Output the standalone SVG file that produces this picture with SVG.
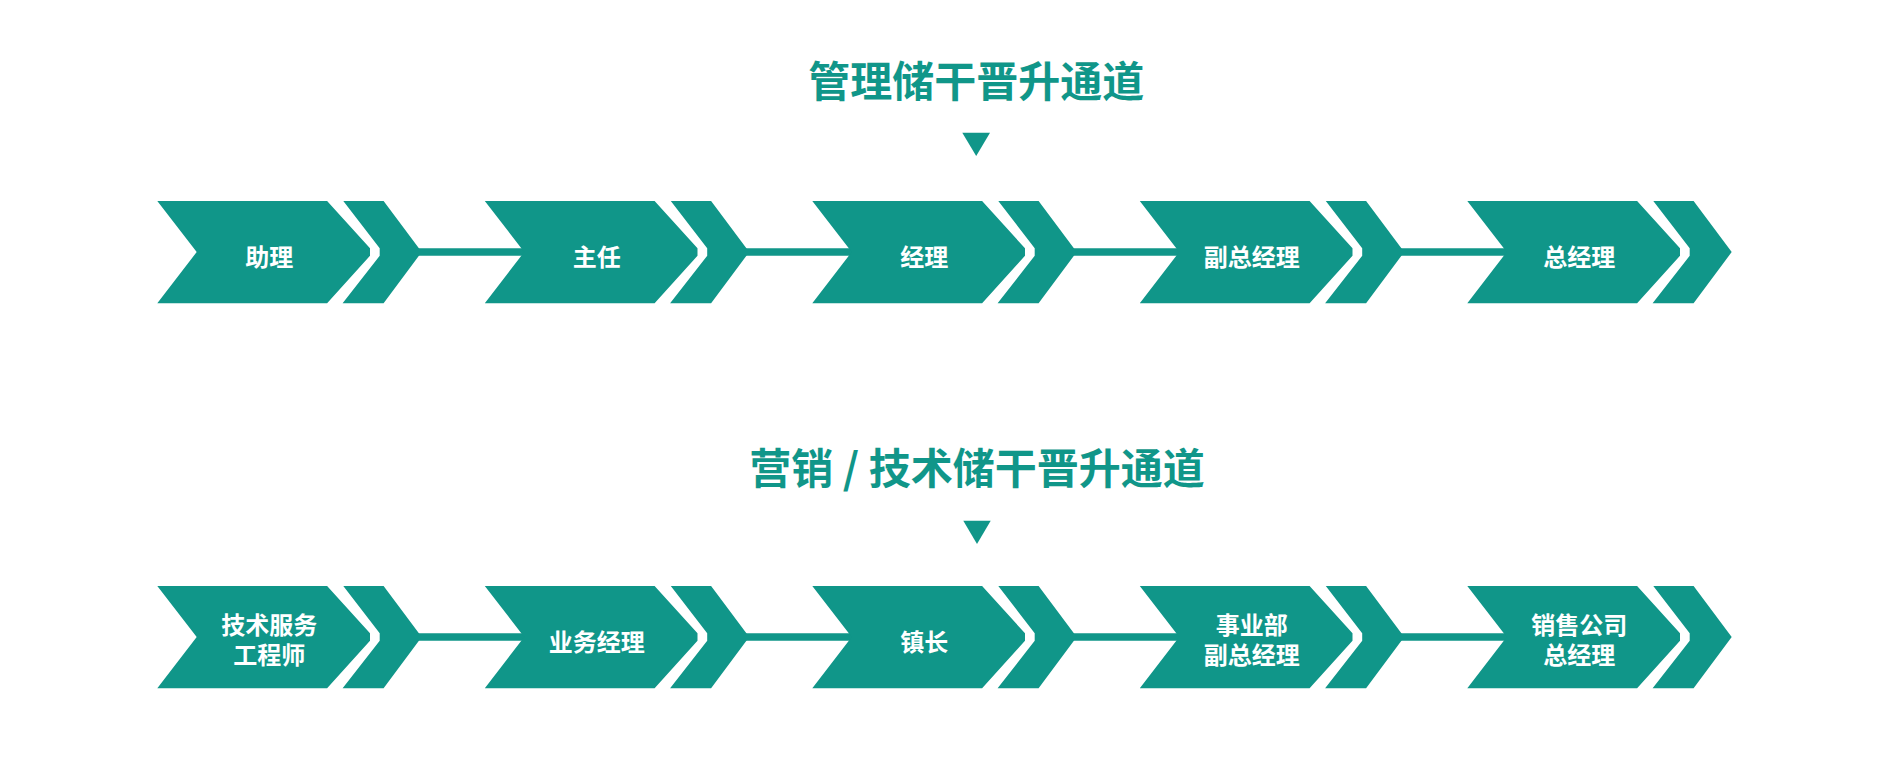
<svg xmlns="http://www.w3.org/2000/svg" xmlns:xlink="http://www.w3.org/1999/xlink" width="1900" height="760" viewBox="0 0 1900 760">
  <style>
    .title { font-family: "Noto Sans CJK SC", "Noto Sans", sans-serif; font-size: 42px; font-weight: 700; fill: #109689; text-anchor: middle; }
    .label { font-family: "Noto Sans CJK SC", "Noto Sans", sans-serif; font-size: 24px; font-weight: 700; fill: #ffffff; text-anchor: middle; }
    .shape { fill: #109689; }
    .conn { stroke: #109689; stroke-width: 7.3; fill: none; }
    .tri { fill: #109689; }
  </style>
  <defs>
    <g id="chev">
      <path class="shape" d="M0,0 H169.8 L212.7,47.3 V54.7 L169.8,102.3 H0 L39.4,51 Z"/>
      <path class="shape" d="M186,0 H226.3 L264.4,51 L226.3,102.3 H185.3 L222.4,54.7 V47.3 Z"/>
    </g>
  </defs>
  <rect width="1900" height="760" fill="#ffffff"/>

  <g id="title-management">
    <text class="title" x="976.3" y="96.5">管理储干晋升通道</text>
    <polygon class="tri" points="962.3,132.7 990,132.7 976.2,156"/>
  </g>
  <g id="title-sales">
    <text class="title" x="977" y="484">营销 / 技术储干晋升通道</text>
    <polygon class="tri" points="963.3,520.7 990.7,520.7 977,544"/>
  </g>

  <g id="connectors">
    <line class="conn" x1="418" y1="252" x2="530" y2="252"/>
    <line class="conn" x1="745.5" y1="252" x2="857.5" y2="252"/>
    <line class="conn" x1="1073" y1="252" x2="1185" y2="252"/>
    <line class="conn" x1="1400.5" y1="252" x2="1512.5" y2="252"/>
    <line class="conn" x1="418" y1="637" x2="530" y2="637"/>
    <line class="conn" x1="745.5" y1="637" x2="857.5" y2="637"/>
    <line class="conn" x1="1073" y1="637" x2="1185" y2="637"/>
    <line class="conn" x1="1400.5" y1="637" x2="1512.5" y2="637"/>
  </g>

  <g id="node-assistant" transform="translate(157.3,201)">
    <use xlink:href="#chev" href="#chev"/>
    <text class="label" x="112" y="65">助理</text>
  </g>
  <g id="node-supervisor" transform="translate(484.8,201)">
    <use xlink:href="#chev" href="#chev"/>
    <text class="label" x="112" y="65">主任</text>
  </g>
  <g id="node-manager" transform="translate(812.3,201)">
    <use xlink:href="#chev" href="#chev"/>
    <text class="label" x="112" y="65">经理</text>
  </g>
  <g id="node-deputy-gm" transform="translate(1139.8,201)">
    <use xlink:href="#chev" href="#chev"/>
    <text class="label" x="112" y="65">副总经理</text>
  </g>
  <g id="node-gm" transform="translate(1467.3,201)">
    <use xlink:href="#chev" href="#chev"/>
    <text class="label" x="112" y="65">总经理</text>
  </g>

  <g id="node-tech-engineer" transform="translate(157.3,586)">
    <use xlink:href="#chev" href="#chev"/>
    <text class="label"><tspan x="112" y="47.5">技术服务</tspan><tspan x="112" y="77.5">工程师</tspan></text>
  </g>
  <g id="node-sales-manager" transform="translate(484.8,586)">
    <use xlink:href="#chev" href="#chev"/>
    <text class="label" x="112" y="65">业务经理</text>
  </g>
  <g id="node-town-head" transform="translate(812.3,586)">
    <use xlink:href="#chev" href="#chev"/>
    <text class="label" x="112" y="65">镇长</text>
  </g>
  <g id="node-division-deputy" transform="translate(1139.8,586)">
    <use xlink:href="#chev" href="#chev"/>
    <text class="label"><tspan x="112" y="47.5">事业部</tspan><tspan x="112" y="77.5">副总经理</tspan></text>
  </g>
  <g id="node-sales-gm" transform="translate(1467.3,586)">
    <use xlink:href="#chev" href="#chev"/>
    <text class="label"><tspan x="112" y="47.5">销售公司</tspan><tspan x="112" y="77.5">总经理</tspan></text>
  </g>
</svg>
